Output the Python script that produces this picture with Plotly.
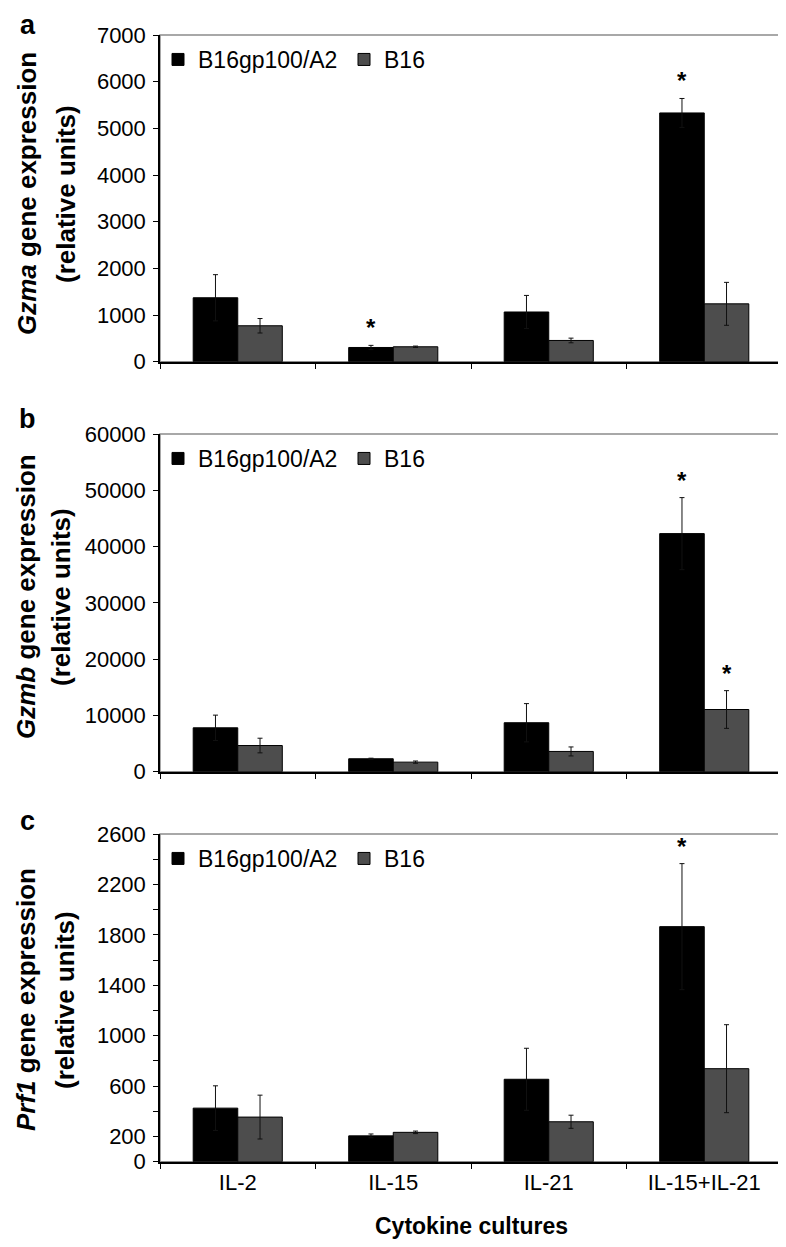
import plotly.graph_objects as go

# page body adds an 8 px margin, so work in screen pixels and shift
PAD = 8
W, H = 786 - PAD, 1247 - PAD

cytokines = ["IL-2", "IL-15", "IL-21", "IL-15+IL-21"]
series = ["B16gp100/A2", "B16"]
colors = ["#000000", "#4d4d4d"]

# panel a - Gzma
gzma_a2 = [1370, 305, 1065, 5330]
gzma_a2_err = [495, 45, 355, 310]
gzma_b16 = [770, 320, 455, 1240]
gzma_b16_err = [155, 15, 50, 460]
gzma_sig_a2 = [0, 1, 0, 1]
gzma_sig_b16 = [0, 0, 0, 0]

# panel b - Gzmb
gzmb_a2 = [7800, 2300, 8700, 42300]
gzmb_a2_err = [2250, 100, 3400, 6400]
gzmb_b16 = [4650, 1700, 3600, 11050]
gzmb_b16_err = [1300, 200, 800, 3350]
gzmb_sig_a2 = [0, 0, 0, 1]
gzmb_sig_b16 = [0, 0, 0, 1]

# panel c - Prf1
prf1_a2 = [425, 205, 654, 1865]
prf1_a2_err = [177, 15, 246, 500]
prf1_b16 = [354, 233, 317, 738]
prf1_b16_err = [174, 10, 52, 349]
prf1_sig_a2 = [0, 0, 0, 1]
prf1_sig_b16 = [0, 0, 0, 0]

prf1_ticks = [0, 200, 400, 600, 800, 1000, 1200, 1400, 1600, 1800, 2000, 2200, 2400, 2600]
prf1_ticktext = ["0", "200", "", "600", "", "1000", "", "1400", "", "1800", "", "2200", "", "2600"]


def px(x):
    return (x - PAD) / W


def py(y):
    return 1 - (y - PAD) / H


panels = [
    dict(letter="a", gene="Gzma", a2=gzma_a2, a2e=gzma_a2_err, b16=gzma_b16, b16e=gzma_b16_err,
         sa=gzma_sig_a2, sb=gzma_sig_b16, top=35, bot=361.7, rng=[0, 7000], dtick=1000,
         tx=27, tgap=39, ty=194, ly=8),
    dict(letter="b", gene="Gzmb", a2=gzmb_a2, a2e=gzmb_a2_err, b16=gzmb_b16, b16e=gzmb_b16_err,
         sa=gzmb_sig_a2, sb=gzmb_sig_b16, top=434, bot=771.7, rng=[0, 60000], dtick=10000,
         tx=26, tgap=35, ty=597, ly=402),
    dict(letter="c", gene="Prf1", a2=prf1_a2, a2e=prf1_a2_err, b16=prf1_b16, b16e=prf1_b16_err,
         sa=prf1_sig_a2, sb=prf1_sig_b16, top=834, bot=1161.7, rng=[0, 2600], dtick=None,
         tx=26, tgap=39, ty=1000, ly=804),
]

left, right = 160, 782
font = "Liberation Sans, Arial, sans-serif"

fig = go.Figure()
annotations = []
shapes = []
layout = {}

bar_off = 0.1433

for i, p in enumerate(panels):
    n = "" if i == 0 else str(i + 1)
    xa, ya = "x" + n, "y" + n
    leg = "legend" + n
    vals = [p["a2"], p["b16"]]
    errs = [p["a2e"], p["b16e"]]
    sigs = [p["sa"], p["sb"]]
    for k in range(2):
        fig.add_trace(go.Bar(
            x=cytokines, y=vals[k], name=series[k],
            marker=dict(color=colors[k], line=dict(color="#000000", width=1)),
            error_y=dict(type="data", array=errs[k], color="#111111", thickness=1, width=2.5),
            xaxis=xa, yaxis=ya, legend=leg,
        ))
        for j in range(len(cytokines)):
            if sigs[k][j]:
                annotations.append(dict(
                    x=j + (2 * k - 1) * bar_off, y=vals[k][j] + errs[k][j], xref=xa, yref=ya,
                    text="<b>*</b>", showarrow=False, yanchor="bottom", yshift=2,
                    font=dict(size=24, color="black", family=font)))

    xaxis = dict(domain=[px(left), px(right)], anchor=ya, type="category", range=[-0.5, 3.5],
                 tickson="boundaries", ticks="outside", ticklen=6, tickcolor="black", tickwidth=1,
                 showline=True, linecolor="black", linewidth=1.5, showgrid=False,
                 showticklabels=(i == 2), ticklabelstandoff=0,
                 tickfont=dict(size=22, color="black", family=font),
                 automargin=False, fixedrange=True)
    yaxis = dict(domain=[py(p["bot"]), py(p["top"])], anchor=xa, range=p["rng"], ticks="outside", ticklen=5,
                 tickcolor="black", tickwidth=1, showline=True, linecolor="black", linewidth=1.5,
                 showgrid=False, zeroline=False, tickformat="d", ticklabelstandoff=3,
                 tickfont=dict(size=22, color="black", family=font), automargin=False)
    if p["dtick"]:
        yaxis["dtick"] = p["dtick"]
    else:
        yaxis["tickvals"] = prf1_ticks
        yaxis["ticktext"] = prf1_ticktext
    layout["xaxis" + n] = xaxis
    layout["yaxis" + n] = yaxis
    layout[leg] = dict(x=px(158), y=py(p["top"] + 3), xanchor="left", yanchor="top",
                       orientation="h", bgcolor="rgba(0,0,0,0)", entrywidth=141,
                       font=dict(size=23, color="black", family=font))

    shapes.append(dict(type="rect", xref=xa + " domain", yref=ya + " domain", x0=0, x1=1, y0=0, y1=1,
                       line=dict(color="#8c8c8c", width=1.5), layer="below"))

    # y title, two lines
    annotations.append(dict(x=px(p["tx"]), y=py(p["ty"]), xref="paper", yref="paper",
                            xanchor="center", yanchor="middle",
                            text="<b><i>" + p["gene"] + "</i> gene expression</b>", textangle=-90,
                            showarrow=False, font=dict(size=26, color="black", family=font)))
    annotations.append(dict(x=px(p["tx"] + p["tgap"]), y=py(p["ty"]), xref="paper", yref="paper",
                            xanchor="center", yanchor="middle",
                            text="<b>(relative units)</b>", textangle=-90,
                            showarrow=False, font=dict(size=26, color="black", family=font)))
    annotations.append(dict(x=px(p["tx"] + 1), y=py(p["ly"]), xref="paper", yref="paper",
                            xanchor="center", yanchor="top",
                            text="<b>" + p["letter"] + "</b>", showarrow=False,
                            font=dict(size=27, color="black", family=font)))

annotations.append(dict(x=px((left + right) / 2), y=py(1226), xref="paper", yref="paper",
                        xanchor="center", yanchor="middle",
                        text="<b>Cytokine cultures</b>", showarrow=False,
                        font=dict(size=23, color="black", family=font)))

fig.update_layout(
    width=W, height=H,
    margin=dict(l=0, r=0, t=0, b=0),
    paper_bgcolor="white", plot_bgcolor="white",
    barmode="group", bargap=0.427, bargroupgap=0,
    annotations=annotations, shapes=shapes,
    font=dict(family=font, color="black"),
    **layout,
)

fig.write_html("out.html")
